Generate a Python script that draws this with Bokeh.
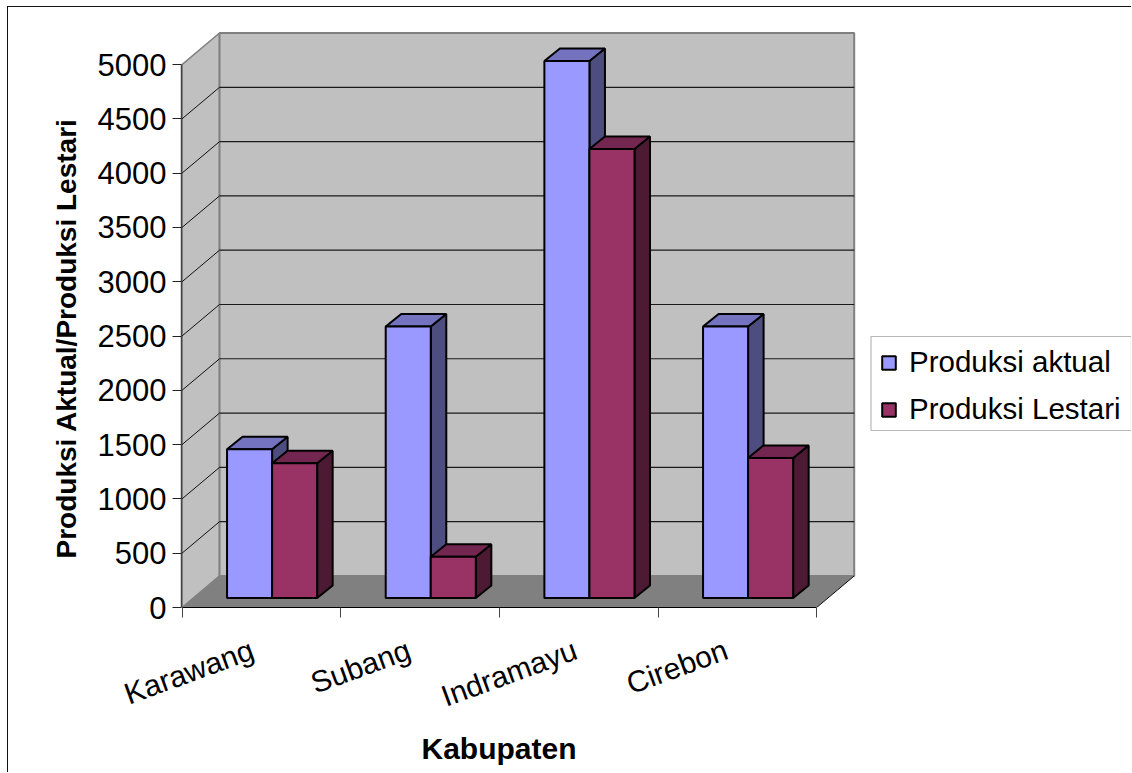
from bokeh.embed import file_html
from bokeh.models import BoxAnnotation, FixedTicker, Legend, LegendItem, Range1d, Title
from bokeh.plotting import figure
from bokeh.resources import INLINE

# Production per regency
categories = ["Karawang", "Subang", "Indramayu", "Cirebon"]
produksi_aktual = [1370, 2500, 4945, 2500]
produksi_lestari = [1240, 380, 4135, 1290]
y_ticks = [0, 500, 1000, 1500, 2000, 2500, 3000, 3500, 4000, 4500, 5000]
series_names = ["Produksi aktual", "Produksi Lestari"]

# Scale factors of the plotting frame, in pixels per data unit
PX_X = 158.5
PX_Y = 0.1084

# The figure starts just inside the chart area's top and left rules
OX, OY = 9, 8
W, H = 1132 - OX, 773 - OY
FRAME_L, FRAME_T, AXIS_Y = 182 - OX, 30 - OY, 607 - OY
SUBPIXEL = 0.5 / PX_X

# Oblique projection offsets, expressed in data units
WALL_DX, WALL_DY = 37.5 / PX_X, 31.5 / PX_Y
BAR_DX, BAR_DY = 15.5 / PX_X, 12.5 / PX_Y
BASE_DX, BASE_DY = 11 / PX_X, 9.5 / PX_Y
GAP = 34 / PX_X
BAR_W = 45 / PX_X

# Horizontal nudge of each rotated category name, in pixels
LABEL_NUDGE = [-9, -11, -3, -11]

p = figure(
    width=W, height=H, tools="", toolbar_location=None, output_backend="svg",
    x_range=Range1d(-SUBPIXEL, (W - FRAME_L) / PX_X - SUBPIXEL),
    y_range=Range1d(0, (AXIS_Y - FRAME_T) / PX_Y),
    min_border_left=FRAME_L, min_border_right=0,
    min_border_top=FRAME_T, min_border_bottom=H - AXIS_Y,
    outline_line_color=None, background_fill_color="white",
    margin=(6, 0, 0, 7),
    styles={"border-left": "1px solid #111111", "border-top": "1px solid #111111",
            "box-sizing": "content-box"},
)
p.grid.visible = False

n = len(categories)
top = y_ticks[-1]

# Chart walls and floor
p.patch([0, WALL_DX, WALL_DX, 0], [0, WALL_DY, top + WALL_DY, top],
        fill_color="#c0c0c0", line_color="#808080", line_width=1.5)
p.patch([WALL_DX, n + WALL_DX, n + WALL_DX, WALL_DX],
        [WALL_DY, WALL_DY, top + WALL_DY, top + WALL_DY],
        fill_color="#c0c0c0", line_color="#808080", line_width=2)
p.patch([0, n, n + WALL_DX, WALL_DX], [0, 0, WALL_DY, WALL_DY],
        fill_color="#808080", line_color=None)
p.line([n, n + WALL_DX], [0, WALL_DY], line_color="#111111", line_width=1)

# Gridlines on the back wall and the side wall
inner = y_ticks[1:-1]
p.multi_line([[WALL_DX, n + WALL_DX] for _ in inner],
             [[v + WALL_DY, v + WALL_DY] for v in inner],
             line_color="#1a1a1a", line_width=1.2)
p.multi_line([[0, WALL_DX] for _ in inner],
             [[v, v + WALL_DY] for v in inner],
             line_color="#111111", line_width=1)


def draw_series(values, slot, front, upper, side):
    x0 = [i + BASE_DX + GAP + slot * BAR_W for i in range(n)]
    x1 = [x + BAR_W for x in x0]
    y0 = [BASE_DY] * n
    y1 = [v + BASE_DY for v in values]
    p.patches(
        [[b, b + BAR_DX, b + BAR_DX, b] for b in x1],
        [[lo, lo + BAR_DY, hi + BAR_DY, hi] for lo, hi in zip(y0, y1)],
        fill_color=side, line_color="black", line_width=2,
    )
    p.patches(
        [[a, a + BAR_DX, b + BAR_DX, b] for a, b in zip(x0, x1)],
        [[hi, hi + BAR_DY, hi + BAR_DY, hi] for hi in y1],
        fill_color=upper, line_color="black", line_width=2,
    )
    return p.quad(left=x0, right=x1, bottom=y0, top=y1,
                  fill_color=front, line_color="black", line_width=2)


r_aktual = draw_series(produksi_aktual, 0, "#9999ff", "#7373bf", "#4d4d80")
r_lestari = draw_series(produksi_lestari, 1, "#993366", "#732650", "#4d1a33")

# Value axis
yax = p.yaxis[0]
yax.ticker = FixedTicker(ticks=y_ticks)
yax.bounds = (0, top)
yax.major_label_text_font = "Liberation Sans"
yax.major_label_text_font_size = "31px"
yax.major_label_text_color = "black"
yax.major_label_standoff = 6
yax.major_tick_out = 9
yax.major_tick_in = 0
yax.major_tick_line_color = "#222222"
yax.minor_tick_line_color = None
yax.axis_line_color = "#444444"
yax.axis_line_width = 1.5

# Category axis: ticks between regencies, names near the middle of each slot
label_at = [i + 0.5 + LABEL_NUDGE[i] / PX_X for i in range(n)]
xax = p.xaxis[0]
xax.ticker = FixedTicker(ticks=label_at, minor_ticks=list(range(n + 1)))
xax.major_label_overrides = dict(zip(label_at, categories))
xax.bounds = (0, n)
xax.major_tick_out = 0
xax.major_tick_in = 0
xax.minor_tick_out = 10
xax.minor_tick_in = 0
xax.minor_tick_line_color = "#444444"
xax.axis_line_color = "black"
xax.axis_line_width = 1.2
xax.major_label_orientation = 0.35
xax.major_label_text_font = "Liberation Sans"
xax.major_label_text_font_size = "30px"
xax.major_label_text_color = "black"
xax.major_label_standoff = 31

# Axis titles, stacked outside the axes and offset along them
p.add_layout(Title(
    text="Produksi Aktual/Produksi Lestari", align="left", offset=49, standoff=25,
    text_font="Liberation Sans", text_font_style="bold",
    text_font_size="28px", text_color="black",
), "left")
p.add_layout(Title(
    text="Kabupaten", align="left", offset=240, standoff=0, vertical_align="top",
    text_font="Liberation Sans", text_font_style="bold",
    text_font_size="30px", text_color="black",
), "below")

# Legend entries sit inside a separately drawn box
p.add_layout(BoxAnnotation(
    left=870.5 - OX, right=1131 - OX, top=336 - OY, bottom=430 - OY,
    left_units="canvas", right_units="canvas", top_units="canvas", bottom_units="canvas",
    fill_color="white", fill_alpha=1, line_color="#111111", line_width=1.2,
))
legend = Legend(
    items=[LegendItem(label=series_names[0], renderers=[r_aktual]),
           LegendItem(label=series_names[1], renderers=[r_lestari])],
    location=(699, 181), margin=0, padding=7, spacing=13,
    glyph_width=17, glyph_height=17, label_standoff=12,
    label_text_font="Liberation Sans", label_text_font_size="29.5px",
    label_text_color="black", border_line_color=None,
    background_fill_alpha=0,
)
p.add_layout(legend, "center")

open("out.html", "w").write(file_html(p, INLINE))
